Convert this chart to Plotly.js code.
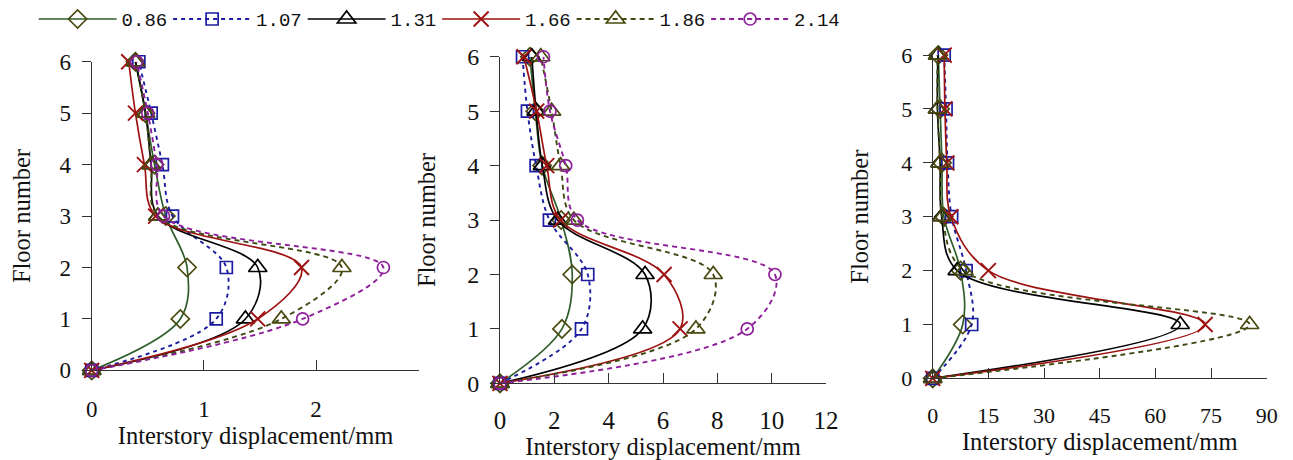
<!DOCTYPE html>
<html>
<head>
<meta charset="utf-8">
<script src="https://cdn.plot.ly/plotly-3.0.1.min.js"></script>
<style>html,body{margin:0;padding:0;background:#fff;}#chart{width:1293px;height:460px;}</style>
</head>
<body>
<div id="chart"></div>
<script>
// ---- data ----
const seriesNames = ['0.86', '1.07', '1.31', '1.66', '1.86', '2.14'];
const floors = [0, 1, 2, 3, 4, 5, 6];
const floorTicks = [0, 1, 2, 3, 4, 5, 6];

// Panel 1 (interstory displacement, mm)
const p1_086 = [0, 0.79, 0.85, 0.66, 0.56, 0.48, 0.39];
const p1_107 = [0, 1.11, 1.20, 0.72, 0.63, 0.53, 0.42];
const p1_131 = [0, 1.37, 1.48, 0.59, 0.53, 0.48, 0.39];
const p1_166 = [0, 1.48, 1.87, 0.57, 0.47, 0.39, 0.33];
const p1_186 = [0, 1.69, 2.23, 0.59, 0.53, 0.48, 0.39];
const p1_214 = [0, 1.88, 2.60, 0.64, 0.58, 0.50, 0.40];

// Panel 2
const p2_086 = [0, 2.28, 2.66, 2.25, 1.55, 1.30, 1.10];
const p2_107 = [0, 3.00, 3.23, 1.82, 1.33, 1.01, 0.83];
const p2_131 = [0, 5.25, 5.34, 2.12, 1.56, 1.33, 1.17];
const p2_166 = [0, 6.63, 6.04, 2.23, 1.72, 1.35, 0.88];
const p2_186 = [0, 7.21, 7.85, 2.72, 2.23, 1.90, 1.50];
const p2_214 = [0, 9.10, 10.12, 2.85, 2.42, 1.84, 1.60];

// Panel 3
const p3_086 = [0, 8.1, 7.5, 3.0, 2.5, 2.0, 1.5];
const p3_107 = [0, 10.5, 9.0, 5.1, 4.0, 3.6, 3.1];
const p3_131 = [0, 66.7, 6.6, 2.4, 2.0, 1.3, 1.4];
const p3_166 = [0, 73.4, 15.0, 4.9, 3.8, 3.3, 3.1];
const p3_186 = [0, 85.4, 8.4, 2.6, 2.0, 1.3, 1.3];

const xTicks1 = [0, 1, 2];
const xTicks2 = [0, 2, 4, 6, 8, 10, 12];
const xTicks3 = [0, 15, 30, 45, 60, 75, 90];

// ---- styles ----
const styles = [
  {line: {color: '#2e5e2a', width: 1.7, dash: 'solid'}, marker: {symbol: 'diamond-open', size: 14, color: '#4a4a10', line: {width: 1.7}}},
  {line: {color: '#1c1ca0', width: 1.9, dash: '4px,4px'}, marker: {symbol: 'square-open', size: 12, color: '#1c1ca0', line: {width: 1.7}}},
  {line: {color: '#000000', width: 1.7, dash: 'solid'}, marker: {symbol: 'triangle-up-open', size: 16, color: '#000000', line: {width: 1.7}}},
  {line: {color: '#9e1212', width: 1.7, dash: 'solid'}, marker: {symbol: 'x-thin-open', size: 15, color: '#9e1212', line: {width: 1.9, color: '#9e1212'}}},
  {line: {color: '#3d4a12', width: 1.9, dash: '5px,4px'}, marker: {symbol: 'triangle-up-open', size: 16, color: '#4a4a10', line: {width: 1.7}}},
  {line: {color: '#8e1e9a', width: 1.9, dash: '5px,4px'}, marker: {symbol: 'circle-open', size: 12, color: '#8e1e9a', line: {width: 1.7}}}
];

const panels = [
  {data: [p1_086, p1_107, p1_131, p1_166, p1_186, p1_214], xa: 'x', ya: 'y'},
  {data: [p2_086, p2_107, p2_131, p2_166, p2_186, p2_214], xa: 'x2', ya: 'y2'},
  {data: [p3_086, p3_107, p3_131, p3_166, p3_186], xa: 'x3', ya: 'y3'}
];

const traces = [];
panels.forEach((p, pi) => {
  p.data.forEach((vals, si) => {
    const st = styles[si];
    traces.push({
      type: 'scatter', mode: 'lines+markers',
      x: vals, y: floors, xaxis: p.xa, yaxis: p.ya,
      name: seriesNames[si], legendgroup: seriesNames[si],
      showlegend: pi === 0,
      line: Object.assign({shape: 'spline', smoothing: 1}, st.line),
      marker: st.marker,
      cliponaxis: false, hoverinfo: 'skip'
    });
  });
});

const W = 1293, H = 460;
const fx = px => px / W;
const fy = py => 1 - py / H;
const serif = 'Liberation Serif, Times New Roman, serif';
const titleFont = {family: serif, size: 24.5, color: '#111'};

function xaxis(l, r, range, ticks, anchor, tsize, lstand) {
  return {
    domain: [fx(l), fx(r)], range: range, anchor: anchor,
    tickvals: ticks, ticktext: ticks.map(String),
    ticks: 'inside', ticklen: 10, tickcolor: '#333', tickwidth: 1,
    showline: true, linecolor: '#333', linewidth: 1,
    showgrid: false, zeroline: false,
    tickfont: {family: serif, size: tsize, color: '#111'}, ticklabelstandoff: lstand,
    title: {text: 'Interstory displacement/mm', font: titleFont, standoff: 0},
    automargin: false, fixedrange: true
  };
}
function yaxis(top, bottom, anchor, tsize, titleStandoff) {
  return {
    domain: [fy(bottom), fy(top)], range: [0, 6], anchor: anchor,
    tickvals: floorTicks, ticktext: floorTicks.map(String),
    ticks: 'outside', ticklen: 9, tickcolor: '#333', tickwidth: 1,
    showline: true, linecolor: '#333', linewidth: 1,
    showgrid: false, zeroline: false,
    tickfont: {family: serif, size: tsize, color: '#111'}, ticklabelstandoff: 6,
    title: {text: 'Floor number', font: titleFont, standoff: titleStandoff},
    automargin: false, fixedrange: true
  };
}

const layout = {
  width: W, height: H,
  margin: {l: 0, r: 0, t: 0, b: 0},
  paper_bgcolor: '#fff', plot_bgcolor: '#fff',
  showlegend: true,
  legend: {
    orientation: 'h', x: 0.026, y: 1.004, xanchor: 'left', yanchor: 'top',
    entrywidth: 41.5, entrywidthmode: 'pixels', itemwidth: 78,
    font: {family: 'Liberation Mono, DejaVu Sans Mono, monospace', size: 19, color: '#111'},
    bgcolor: 'rgba(0,0,0,0)', tracegroupgap: 0
  },
  xaxis: xaxis(91.7, 419.3, [0, 2.92], xTicks1, 'y', 23, 18),
  yaxis: yaxis(60, 370, 'x', 23, 22),
  xaxis2: xaxis(500, 826, [0, 12], xTicks2, 'y2', 25, 15),
  yaxis2: yaxis(55, 383, 'x2', 24, 24),
  xaxis3: xaxis(932.7, 1266.7, [0, 90], xTicks3, 'y3', 22, 17),
  yaxis3: yaxis(53.3, 378, 'x3', 22, 25)
};

Plotly.newPlot('chart', traces, layout, {displayModeBar: false, staticPlot: true});
</script>
</body>
</html>
